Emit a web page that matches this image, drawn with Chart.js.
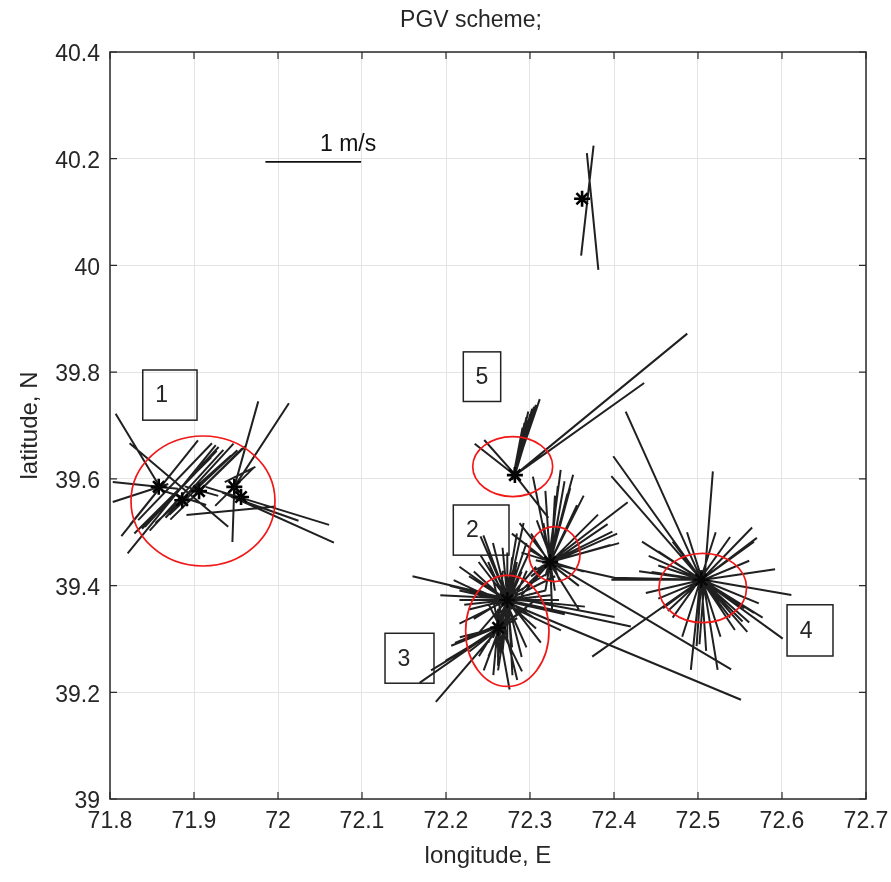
<!DOCTYPE html>
<html><head><meta charset="utf-8">
<script src="https://cdn.jsdelivr.net/npm/chart.js@4/dist/chart.umd.min.js"></script>
<style>html,body{margin:0;padding:0;background:#fff}#wrap{width:891px;height:882px;position:relative}</style>
</head><body><div id="wrap"><canvas id="c" width="891" height="882"></canvas></div>
<script>
const chartTitle = 'PGV scheme;';
const xAxisTitle = 'longitude, E';
const yAxisTitle = 'latitude, N';
const xTicks = [71.8, 71.9, 72, 72.1, 72.2, 72.3, 72.4, 72.5, 72.6, 72.7];
const xTickLabels = ['71.8', '71.9', '72', '72.1', '72.2', '72.3', '72.4', '72.5', '72.6', '72.7'];
const yTicks = [39, 39.2, 39.4, 39.6, 39.8, 40, 40.2, 40.4];
const yTickLabels = ['39', '39.2', '39.4', '39.6', '39.8', '40', '40.2', '40.4'];

// stations (asterisks): T, A, B, C, D, E, F, G, H, I, J
const stationLon = [72.362, 71.858, 71.886, 71.906, 71.948, 71.956, 72.282, 72.324, 72.273, 72.262, 72.504];
const stationLat = [40.125, 39.585, 39.560, 39.577, 39.585, 39.566, 39.607, 39.444, 39.373, 39.321, 39.411];

// scale bar: 1 m/s
const scaleBarLon = [71.985, 72.099];
const scaleBarLat = 40.194;
const scaleBarLabel = '1 m/s';
const scaleBarLabelLon = 72.05;
const scaleBarLabelLat = 40.226;
const latDegPerMs = 0.178;

// PGV lines per station, in m/s: [east1, north1, east2, north2]
const linesT = [[0.12, 0.56, -0.01, -0.60], [0.05, 0.48, 0.17, -0.75]];
const linesA = [[-0.45, 0.77, 0.03, -0.03], [-0.48, 0.05, 0.2, -0.02], [-0.48, -0.16, 0.1, 0.03], [-0.39, -0.52, 0.41, 0.49], [-0.3, -0.4, 0.3, 0.35]];
const linesB = [[-0.55, 0.60, 0.48, -0.28], [-0.57, -0.56, 0.35, 0.58], [-0.46, -0.21, 0.31, 0.60], [-0.39, -0.28, 0.38, 0.56], [-0.34, -0.32, 0.43, 0.53], [-0.28, -0.24, 0.51, 0.47], [-0.2, 0.1, 0.25, -0.05], [-0.42, -0.3, 0.36, 0.52], [-0.5, -0.35, 0.3, 0.45]];
const linesC = [[-0.31, -0.25, 0.40, 0.43], [-0.25, -0.25, 0.48, 0.47], [-0.15, 0.05, 0.2, -0.05], [-0.3, -0.3, 0.45, 0.45], [-0.35, -0.28, 0.36, 0.5]];
const linesD = [[0, 0, -0.02, -0.58], [0, 0, 0.25, 0.90], [0, 0, 0.57, 0.88], [-0.3, 0.0, 0.99, -0.40], [-0.1, 0.05, 0.22, 0.21], [-0.2, -0.2, 0.2, 0.2]];
const linesE = [[-0.2, 0.05, 0.97, -0.48], [-0.57, -0.19, 0.36, -0.10], [-0.1, 0.0, 0.6, -0.25]];
const linesF = [[0, 0, 1.80, 1.49], [0, 0, 1.35, 0.97], [-0.03, -0.05, 0.26, 0.80], [0, 0, 0.22, 0.74], [-0.02, -0.04, 0.14, 0.67], [0, 0, 0.12, 0.61], [0, 0, 0.10, 0.55], [-0.02, -0.03, 0.08, 0.50], [0.05, -0.04, -0.42, 0.33], [0.06, -0.06, -0.32, 0.37], [0, 0, 0.35, -0.45], [0, 0, 0.18, 0.70], [0, 0, 0.16, 0.64], [0, 0, 0.13, 0.58], [0, 0, 0.11, 0.52], [0, 0, 0.20, 0.72]];
const linesG = [[-0.05, -0.15, 0.24, 0.92], [0, 0, 0.21, 0.78], [-0.03, -0.1, 0.11, 0.97], [0, 0, -0.18, 0.90], [-0.2, -0.15, 0.81, 0.63], [-0.1, -0.05, 0.65, 0.32], [0, 0, 0.72, 0.20], [0, 0, 0.63, 0.18], [-0.15, 0.02, 0.74, -0.18], [-0.2, 0.12, 1.89, -1.13], [-0.14, 0.44, 0.1, -0.2], [-0.07, 0.41, 0.05, -0.3], [0, 0, 0.02, -0.50], [0, 0, -0.3, -0.35], [0, 0, -0.32, 0.41], [0.3, 0.3, -0.25, -0.25], [0.35, -0.1, -0.3, 0.1], [0.15, 0.85, -0.05, -0.3], [0.05, 0.7, 0, -0.2], [0.5, 0.5, -0.3, -0.3], [0.6, 0.4, -0.2, -0.15], [0.7, 0.3, -0.2, -0.1], [-0.4, 0.3, 0.3, -0.25], [0.3, -0.5, -0.2, 0.3], [0, 0, 0.15, 0.85], [0, 0, 0.08, 0.80], [0, 0, 0.18, 0.72], [0, 0, -0.05, 0.75], [0, 0, 0.28, 0.60], [0, 0, 0.35, 0.70]];
const linesH = [[-0.99, 0.25, 0.05, 0], [-0.28, 0.67, 0.05, -0.1], [-0.56, 0.21, 0.56, -0.32], [-0.28, 0.47, 0.1, -0.15], [-0.25, 0.68, 0, 0], [0.17, 0.81, -0.05, -0.2], [-0.1, 0.02, 0.81, -0.07], [-0.1, 0.05, 1.12, -0.18], [-0.5, 0.0, 0.54, 0.0], [-0.3, 0.1, 2.44, -1.05], [-0.1, 0.02, 1.29, -0.28], [0.3, 0.35, -0.3, -0.35], [-0.35, 0.3, 0.3, -0.3], [0.0, 0.5, 0, -0.4], [0.4, 0.1, -0.4, -0.1], [0.2, 0.6, -0.1, -0.3], [0.45, 0.3, -0.35, -0.2], [-0.45, -0.05, 0.45, 0.05], [-0.6, 0.15, 0.4, -0.1], [-0.4, 0.25, 0.3, -0.2], [0.1, 0.7, -0.1, -0.5], [-0.15, 0.6, 0.15, -0.6], [0.25, 0.55, -0.2, -0.45], [-0.5, 0.35, 0.2, -0.15], [0.5, 0.25, -0.5, -0.25], [0.6, -0.15, -0.5, 0.1], [0.35, -0.45, -0.3, 0.4], [-0.7, 0.05, 0.3, 0.0], [0.05, 0.45, -0.05, -0.55], [0.1, 0.4, -0.1, -0.6], [-0.05, 0.55, 0.05, -0.5], [0.15, 0.3, -0.15, -0.4], [-0.2, 0.4, 0.2, -0.5]];
const linesI = [[0.1, 0.05, -0.49, -0.19], [0.15, 0.1, -0.82, -0.58], [0.1, 0.1, -0.65, -0.78], [0, 0.2, 0, -0.40], [-0.05, 0.3, 0.12, -0.65], [-0.1, 0.25, 0.25, -0.46], [0.05, 0.05, -0.45, -0.16], [0, 0, -0.40, -0.10], [0.2, 0.35, -0.2, -0.3], [0.3, 0.2, -0.3, -0.2], [0.2, 0.5, -0.15, -0.45], [0.3, 0.6, -0.1, -0.3], [-0.55, -0.35, 0.2, 0.1], [-0.7, -0.45, 0.2, 0.1], [0.05, 0.6, -0.05, -0.5], [0.4, 0.3, -0.3, -0.25], [0.1, 0.45, 0.15, -0.5], [-0.05, 0.5, 0.2, -0.55], [0.15, 0.55, 0.0, -0.45]];
const linesJ = [[-0.02, -0.68, 0.12, 1.14], [0, 0, 0.53, 0.55], [0, 0, 0.58, 0.44], [0, 0, 0.55, 0.40], [-0.1, -0.02, 0.77, 0.11], [-0.1, 0.02, 0.94, -0.16], [0, 0, 0.85, -0.62], [0, 0, 0.64, -0.40], [0, 0, 0.43, -0.44], [0, 0, 0.35, -0.53], [0, 0, 0.48, -0.55], [0, 0.1, -0.11, -0.95], [0, 0.1, 0.17, -0.95], [0, 0, -1.14, -0.81], [0, 0, -0.35, -0.33], [0.1, 0.02, -0.58, -0.14], [0.1, -0.02, -0.65, 0.09], [0, 0, -0.94, 0.0], [0, 0, -0.92, 0.02], [0, 0, -0.62, 0.40], [0, 0, -0.79, 1.77], [0, 0, -0.92, 1.30], [0, 0, -0.94, 1.09], [0, 0, -0.52, 0.08], [0.4, 0.3, -0.4, -0.3], [0.5, 0.2, -0.45, -0.2], [0.3, 0.45, -0.3, -0.4], [-0.3, 0.4, 0.3, -0.4], [0.2, -0.6, -0.15, 0.5], [-0.2, -0.6, 0.15, 0.5], [0.45, -0.3, -0.45, 0.3], [0, 0, 0.6, -0.25], [0, 0, 0.55, -0.35], [0, 0, 0.5, -0.45], [0, 0, -0.05, -0.7], [0, 0, 0.05, -0.75], [0, 0, -0.55, 0.25], [0, 0, -0.45, 0.15]];
const stationLines = [linesT, linesA, linesB, linesC, linesD, linesE, linesF, linesG, linesH, linesI, linesJ];

// red ellipses (centre lon/lat, half-axes in degrees)
const ellipseLon = [71.9107, 72.2794, 72.3292, 72.273, 72.5057];
const ellipseLat = [39.5585, 39.623, 39.459, 39.315, 39.3955];
const ellipseRLon = [0.0857, 0.0476, 0.0304, 0.0496, 0.0521];
const ellipseRLat = [0.1218, 0.0562, 0.0515, 0.104, 0.065];

// numbered boxes
const boxLabel = ['1', '5', '2', '3', '4'];
const boxLon1 = [71.839, 72.2206, 72.2087, 72.1274, 72.606];
const boxLon2 = [71.9036, 72.2651, 72.275, 72.1857, 72.6607];
const boxLatTop = [39.804, 39.838, 39.551, 39.3106, 39.364];
const boxLatBottom = [39.710, 39.745, 39.457, 39.217, 39.268];

const lonDegPerMs = (scaleBarLon[1] - scaleBarLon[0]);
const segData = [];
stationLines.forEach((lines, s) => {
  lines.forEach(([e1, n1, e2, n2]) => {
    segData.push({x: stationLon[s] + e1 * lonDegPerMs, y: stationLat[s] + n1 * latDegPerMs});
    segData.push({x: stationLon[s] + e2 * lonDegPerMs, y: stationLat[s] + n2 * latDegPerMs});
    segData.push({x: null, y: null});
  });
});
const starData = stationLon.map((x, i) => ({x, y: stationLat[i]}));

const FONT = "'Liberation Sans', Arial, sans-serif";
const TXT = '#262626';

const decor = {
  id: 'decor',
  afterDatasetsDraw(chart) {
    const {ctx, chartArea: a, scales: {x, y}} = chart;
    ctx.save();
    // scale bar
    ctx.strokeStyle = '#111';
    ctx.lineWidth = 1.9;
    ctx.beginPath();
    ctx.moveTo(x.getPixelForValue(scaleBarLon[0]), y.getPixelForValue(scaleBarLat));
    ctx.lineTo(x.getPixelForValue(scaleBarLon[1]), y.getPixelForValue(scaleBarLat));
    ctx.stroke();
    ctx.fillStyle = '#111';
    ctx.font = '23px ' + FONT;
    ctx.textBaseline = 'middle';
    ctx.textAlign = 'left';
    ctx.fillText(scaleBarLabel, x.getPixelForValue(scaleBarLabelLon), y.getPixelForValue(scaleBarLabelLat));
    // ellipses
    ctx.strokeStyle = '#f01818';
    ctx.lineWidth = 1.7;
    ellipseLon.forEach((lon, i) => {
      const cx = x.getPixelForValue(lon), cy = y.getPixelForValue(ellipseLat[i]);
      const rx = x.getPixelForValue(lon + ellipseRLon[i]) - cx;
      const ry = cy - y.getPixelForValue(ellipseLat[i] + ellipseRLat[i]);
      ctx.beginPath();
      ctx.ellipse(cx, cy, rx, ry, 0, 0, Math.PI * 2);
      ctx.stroke();
    });
    // boxes
    ctx.strokeStyle = '#222';
    ctx.lineWidth = 1.5;
    ctx.fillStyle = TXT;
    ctx.font = '23px ' + FONT;
    ctx.textAlign = 'center';
    boxLabel.forEach((t, i) => {
      const l = x.getPixelForValue(boxLon1[i]), r = x.getPixelForValue(boxLon2[i]);
      const tp = y.getPixelForValue(boxLatTop[i]), bt = y.getPixelForValue(boxLatBottom[i]);
      ctx.strokeRect(l, tp, r - l, bt - tp);
      const tx = l + Math.min(19, (r - l) / 2);
      ctx.fillText(t, tx, (tp + bt) / 2 + 1);
    });
    // frame and inward ticks
    ctx.strokeStyle = '#2a2a2a';
    ctx.lineWidth = 1.5;
    ctx.strokeRect(a.left, a.top, a.right - a.left, a.bottom - a.top);
    ctx.lineWidth = 1.2;
    ctx.beginPath();
    xTicks.forEach(v => {
      const px = x.getPixelForValue(v);
      ctx.moveTo(px, a.bottom); ctx.lineTo(px, a.bottom - 7);
      ctx.moveTo(px, a.top); ctx.lineTo(px, a.top + 7);
    });
    yTicks.forEach(v => {
      const py = y.getPixelForValue(v);
      ctx.moveTo(a.left, py); ctx.lineTo(a.left + 7, py);
      ctx.moveTo(a.right, py); ctx.lineTo(a.right - 7, py);
    });
    ctx.stroke();
    // title
    ctx.fillStyle = TXT;
    ctx.font = '23px ' + FONT;
    ctx.textAlign = 'center';
    ctx.textBaseline = 'middle';
    ctx.fillText(chartTitle, (a.left + a.right) / 2 - 17, 21);
    ctx.restore();
  }
};

new Chart(document.getElementById('c'), {
  type: 'scatter',
  data: {
    datasets: [
      {data: segData, showLine: true, spanGaps: false, borderColor: 'rgba(8,8,8,0.9)', borderWidth: 2, pointRadius: 0, pointHoverRadius: 0, tension: 0},
      {data: starData, showLine: false, pointStyle: 'star', pointRadius: 8, borderWidth: 2.6, borderColor: '#000', backgroundColor: '#000'}
    ]
  },
  options: {
    responsive: false,
    animation: false,
    devicePixelRatio: 1,
    layout: {padding: {top: 52, left: 0, right: 25, bottom: 0}},
    plugins: {legend: {display: false}, tooltip: {enabled: false}, title: {display: false}},
    events: [],
    scales: {
      x: {
        type: 'linear', position: 'bottom', min: 71.8, max: 72.7,
        afterBuildTicks: s => { s.ticks = xTicks.map(v => ({value: v})); },
        afterFit: s => { s.height = 83; s.paddingLeft = 0; s.paddingRight = 0; },
        ticks: {callback: (v, i) => xTickLabels[i], font: {family: FONT, size: 23}, color: TXT, padding: 9, maxRotation: 0, autoSkip: false},
        grid: {color: '#e4e4e4', lineWidth: 1, drawTicks: false},
        border: {display: false},
        title: {display: true, text: xAxisTitle, font: {family: FONT, size: 24}, color: TXT, padding: {top: 0, bottom: 11}}
      },
      y: {
        type: 'linear', position: 'left', min: 39, max: 40.4,
        afterBuildTicks: s => { s.ticks = yTicks.map(v => ({value: v})); },
        afterFit: s => { s.width = 110; s.paddingTop = 0; s.paddingBottom = 0; },
        ticks: {callback: (v, i) => yTickLabels[i], font: {family: FONT, size: 23}, color: TXT, padding: 10, labelOffset: 3, autoSkip: false},
        grid: {color: '#e4e4e4', lineWidth: 1, drawTicks: false},
        border: {display: false},
        title: {display: true, text: yAxisTitle, font: {family: FONT, size: 24}, color: TXT, padding: {top: 16, bottom: 0}}
      }
    }
  },
  plugins: [decor]
});
</script>
</body></html>
